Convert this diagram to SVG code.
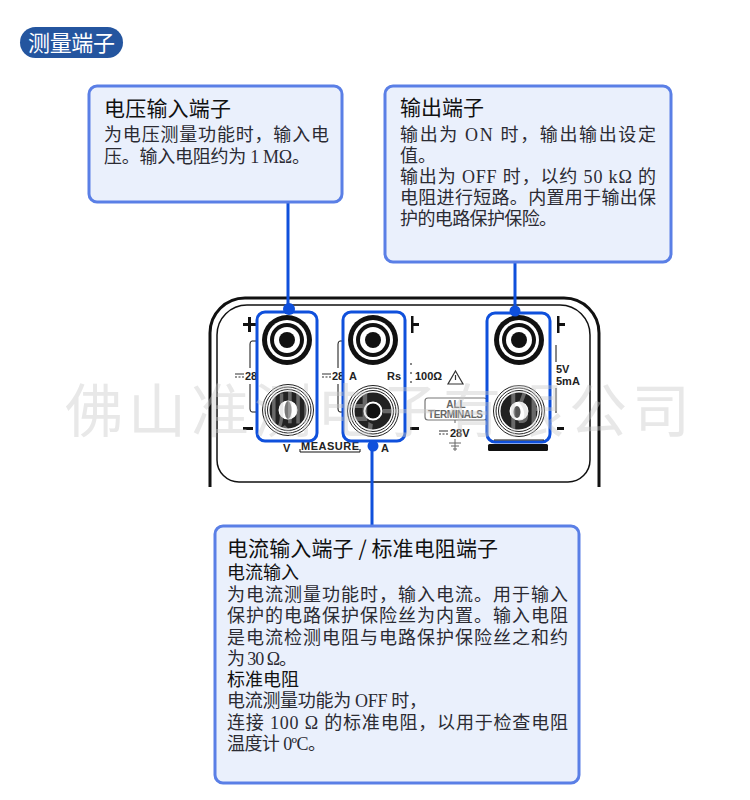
<svg xmlns="http://www.w3.org/2000/svg" width="750" height="800" viewBox="0 0 750 800">
<style>
text{font-family:"Liberation Serif","Noto Sans CJK SC",serif;fill:#2b2b33}
.t{font-family:"Noto Sans CJK SC","Liberation Sans",sans-serif;font-size:21px;fill:#111}
.s{font-family:"Noto Sans CJK SC","Liberation Sans",sans-serif;font-size:18px;fill:#111}
.b{font-size:18px}
.card{fill:#eaf0fc;stroke:#5a7fe6;stroke-width:3}
.p{font-family:"Liberation Sans",sans-serif;font-weight:bold;font-size:11px;fill:#222}
.g{fill:#666;font-size:10px}
.frame{fill:none;stroke:#111}
.box{fill:#fff;stroke:#0f50dc;stroke-width:3}
.k{fill:#111}
.w{fill:#fff}
.thin{fill:#fff;stroke:#222;stroke-width:1}
.cn{stroke:#0f50dc;stroke-width:3;fill:none}
.dot{fill:#0f50dc}
.dc{stroke:#333;stroke-width:1.2;fill:none}
.wm{font-family:"Noto Sans CJK SC",sans-serif;font-size:58px;fill:#c9c9c9;opacity:.42}
</style>
<defs>
<g id="jt"><circle r="25" class="k"/><circle r="20" class="w"/><circle r="17" class="k"/><circle r="13" class="w"/><circle r="8" class="k"/></g>
<g id="jb"><circle r="25.500" class="thin"/><circle r="23" class="thin"/><circle r="20.500" class="thin"/><circle r="14" fill="none" stroke="#222" stroke-width="9"/><circle r="9" fill="#fff"/></g>
<path id="dc" class="dc" d="M0 0h9M0 3h2M3.500 3h2M7 3h2"/>
</defs>

<g id="panel">
<path class="frame" stroke-width="3" d="M210 487V333a35 35 0 0 1 35-35H564a35 35 0 0 1 35 35V487"/>
<path class="frame" stroke-width="1.500" d="M217 335a30 30 0 0 1 30-30H560a30 30 0 0 1 30 30V460a22 22 0 0 1-22 22H239a22 22 0 0 1-22-22Z"/>
<path class="k" d="M243 323h5v-6h3v6h6v3h-6v6h-3v-6h-5ZM243 427h10v3h-10ZM411 316h2.500v7H419v3h-5.500v7H411ZM410 427h9v3h-9ZM557 316h2.500v7H565v3h-5.500v7H557ZM557 427h7v3h-7Z"/>
<path class="frame" d="M257 341h-5q-2 0-2 3v24M250 384v25q0 3 2 3h5M343 341h-3q-2 0-2 3v24M338 384v25q0 3 2 3h3"/>
<path class="frame" d="M556 345v17M556 388v25"/>
<path class="frame" stroke-dasharray="2 7" d="M411 363v22"/>
<use href="#dc" x="235" y="374"/><text class="p" x="245" y="380">28</text>
<use href="#dc" x="322" y="374"/><text class="p" x="332" y="380">28</text>
<text class="p" x="415" y="380">100Ω</text>
<path fill="none" stroke="#333" stroke-width="1.200" d="M455.500 371l7.500 13h-15ZM455.500 375v5"/>
<use href="#dc" x="538" y="368"/><text class="p" x="556" y="373">5V</text>
<use href="#dc" x="538" y="379"/><text class="p" x="556" y="385">5mA</text>
<rect x="425" y="398" width="62" height="22" rx="3" fill="#fff" stroke="#777" stroke-width="1.200"/>
<text class="p g" x="456" y="408" text-anchor="middle">ALL</text>
<text class="p g" x="428" y="418" textLength="55">TERMINALS</text>
<path stroke="#666" fill="none" d="M455 420v3M455 439v12M449 443h12M451 446h8M453 449h4"/>
<use href="#dc" x="439" y="431"/><text class="p" x="450" y="437">28V</text>
<text class="p" x="283" y="452">V</text>
<text class="p" x="301" y="450" textLength="58">MEASURE</text>
<path class="frame" d="M300 449v3H360v-3"/>
<text class="p" x="381" y="452">A</text>
<rect x="488" y="444" width="60" height="7" rx="1.500" class="k"/>
</g>

<g id="terminal-v">
<rect class="box" x="257" y="312" width="60" height="129" rx="8"/>
<use href="#jt" x="287" y="340"/><use href="#jb" x="288" y="410"/><ellipse cx="288" cy="410" rx="3.500" ry="9" fill="#777"/>
</g>
<g id="terminal-a">
<rect class="box" x="343" y="312" width="62" height="129" rx="8"/>
<text class="p" x="349" y="380">A</text><text class="p" x="387" y="380">Rs</text>
<use href="#jt" x="373" y="340"/><use href="#jb" x="373" y="411"/><circle cx="373" cy="411" r="7.500" class="k"/>
</g>
<g id="terminal-o">
<rect class="box" x="487" y="313" width="63" height="129" rx="8"/>
<path class="frame" d="M494 440H544"/>
<use href="#jt" x="519" y="340"/><use href="#jb" x="519" y="411"/><ellipse cx="517" cy="412" rx="3.500" ry="6" fill="#555"/>
</g>

<g id="connectors">
<path class="cn" d="M288 201V309M515 262V311M372 446V526"/>
<circle class="dot" cx="289" cy="309" r="6"/><circle class="dot" cx="515" cy="311" r="5.500"/><circle class="dot" cx="373" cy="446" r="5.500"/>
</g>

<g id="heading">
<rect x="20" y="27" width="103" height="31" rx="15.500" fill="#24559f"/>
<text x="28" y="51" textLength="87" style="font-family:'Noto Sans CJK SC',sans-serif;font-size:22px;fill:#fff">测量端子</text>
</g>

<g id="voltage-card">
<rect class="card" x="89" y="86" width="253" height="116" rx="8"/>
<text class="t" x="104" y="116" textLength="127">电压输入端子</text>
<text class="b" x="104" y="141" textLength="225">为电压测量功能时，输入电</text>
<text class="b" x="104" y="163" textLength="206">压。输入电阻约为 1 MΩ。</text>
</g>

<g id="output-card">
<rect class="card" x="385" y="86" width="286" height="176" rx="8"/>
<text class="t" x="400" y="115" textLength="84">输出端子</text>
<text class="b" x="400" y="141" textLength="256">输出为 ON 时，输出输出设定</text>
<text class="b" x="400" y="162">值。</text>
<text class="b" x="400" y="183" textLength="256">输出为 OFF 时，以约 50 kΩ 的</text>
<text class="b" x="400" y="204" textLength="256">电阻进行短路。内置用于输出保</text>
<text class="b" x="400" y="225" textLength="157">护的电路保护保险。</text>
</g>

<g id="current-card">
<rect class="card" x="215" y="526" width="364" height="257" rx="8"/>
<text class="t" x="227" y="556" textLength="271">电流输入端子 / 标准电阻端子</text>
<text class="s" x="227" y="579">电流输入</text>
<text class="b" x="227" y="601" textLength="341">为电流测量功能时，输入电流。用于输入</text>
<text class="b" x="227" y="622" textLength="341">保护的电路保护保险丝为内置。输入电阻</text>
<text class="b" x="227" y="644" textLength="341">是电流检测电阻与电路保护保险丝之和约</text>
<text class="b" x="227" y="665" textLength="70">为 30 Ω。</text>
<text class="s" x="227" y="686">标准电阻</text>
<text class="b" x="227" y="707" textLength="200">电流测量功能为 OFF 时，</text>
<text class="b" x="227" y="729" textLength="341">连接 100 Ω 的标准电阻，以用于检查电阻</text>
<text class="b" x="227" y="750" textLength="99">温度计 0ºC。</text>
</g>

<text class="wm" x="65" y="432" textLength="625">佛山准测电子有限公司</text>
</svg>
